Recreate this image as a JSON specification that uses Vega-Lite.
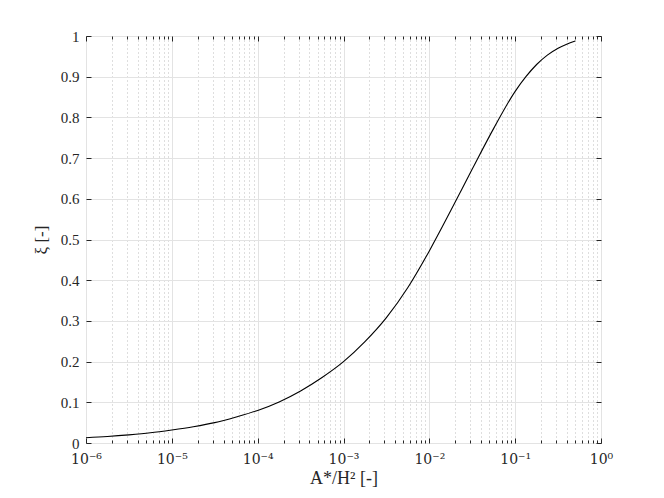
{
  "$schema": "https://vega.github.io/schema/vega-lite/v6.json",
  "width": 515,
  "height": 407,
  "autosize": {"type": "none"},
  "padding": {"left": 86, "top": 36, "right": 63, "bottom": 55},
  "background": "white",
  "config": {
    "view": {"stroke": "#262626", "strokeWidth": 1},
    "font": "Liberation Serif",
    "axis": {
      "labelFont": "Liberation Serif",
      "titleFont": "Liberation Serif",
      "labelColor": "#262626",
      "titleColor": "#262626",
      "tickColor": "#262626",
      "tickWidth": 1,
      "domain": false,
      "titleFontWeight": "normal",
      "labelFontSize": 15,
      "titleFontSize": 17
    }
  },
  "data": {
    "values": [
      {"a": 1e-6, "xi": 0.013},
      {"a": 1.778e-6, "xi": 0.016},
      {"a": 3.162e-6, "xi": 0.020},
      {"a": 5.623e-6, "xi": 0.025},
      {"a": 1e-5, "xi": 0.032},
      {"a": 1.778e-5, "xi": 0.040},
      {"a": 3.162e-5, "xi": 0.050},
      {"a": 5.623e-5, "xi": 0.064},
      {"a": 1e-4, "xi": 0.080},
      {"a": 1.778e-4, "xi": 0.101},
      {"a": 3.162e-4, "xi": 0.128},
      {"a": 5.623e-4, "xi": 0.161},
      {"a": 1e-3, "xi": 0.200},
      {"a": 1.778e-3, "xi": 0.249},
      {"a": 3.162e-3, "xi": 0.308},
      {"a": 5.623e-3, "xi": 0.382},
      {"a": 1e-2, "xi": 0.472},
      {"a": 1.778e-2, "xi": 0.571},
      {"a": 3.162e-2, "xi": 0.673},
      {"a": 5.623e-2, "xi": 0.773},
      {"a": 0.1, "xi": 0.864},
      {"a": 0.1334, "xi": 0.900},
      {"a": 0.1778, "xi": 0.930},
      {"a": 0.2371, "xi": 0.953},
      {"a": 0.3162, "xi": 0.970},
      {"a": 0.3981, "xi": 0.980},
      {"a": 0.5012, "xi": 0.988}
    ]
  },
  "layer": [
    {
      "mark": {"type": "line", "color": "black", "strokeWidth": 1.1, "interpolate": "monotone"},
      "encoding": {
        "x": {
          "field": "a", "type": "quantitative",
          "scale": {"type": "log", "domain": [1e-6, 1], "nice": false},
          "axis": {
            "orient": "bottom",
            "values": [1e-6, 1e-5, 1e-4, 1e-3, 1e-2, 1e-1, 1],
            "labelExpr": "'10' + (datum.value > 0.5 ? '⁰' : datum.value > 0.05 ? '⁻¹' : datum.value > 0.005 ? '⁻²' : datum.value > 0.0005 ? '⁻³' : datum.value > 0.00005 ? '⁻⁴' : datum.value > 0.000005 ? '⁻⁵' : '⁻⁶')",
            "labelFont": "DejaVu Serif",
            "labelFontSize": 14,
            "grid": true, "gridColor": "#e3e3e3", "gridWidth": 1,
            "tickSize": -5,
            "labelPadding": 14,
            "labelFlush": false,
            "title": "A*/H² [-]",
            "titleFontSize": 18,
            "titlePadding": 3
          }
        },
        "y": {
          "field": "xi", "type": "quantitative",
          "scale": {"domain": [0, 1], "nice": false},
          "axis": {
            "orient": "left",
            "values": [0, 0.1, 0.2, 0.3, 0.4, 0.5, 0.6, 0.7, 0.8, 0.9, 1],
            "format": ".1~f",
            "grid": true, "gridColor": "#e3e3e3", "gridWidth": 1,
            "tickSize": -5,
            "labelPadding": 12,
            "labelFlush": false,
            "title": "ξ [-]",
            "titlePadding": 10
          }
        }
      }
    },
    {
      "mark": {"type": "line", "strokeOpacity": 0},
      "encoding": {
        "x": {
          "field": "a", "type": "quantitative",
          "axis": {
            "orient": "bottom",
            "values": [2e-6, 3e-6, 4e-6, 5e-6, 6e-6, 7e-6, 8e-6, 9e-6, 2e-5, 3e-5, 4e-5, 5e-5, 6e-5, 7e-5, 8e-5, 9e-5, 2e-4, 3e-4, 4e-4, 5e-4, 6e-4, 7e-4, 8e-4, 9e-4, 2e-3, 3e-3, 4e-3, 5e-3, 6e-3, 7e-3, 8e-3, 9e-3, 2e-2, 3e-2, 4e-2, 5e-2, 6e-2, 7e-2, 8e-2, 9e-2, 0.2, 0.3, 0.4, 0.5, 0.6, 0.7, 0.8, 0.9],
            "labels": false,
            "grid": true, "gridColor": "#bdbdbd", "gridDash": [1, 3], "gridWidth": 1,
            "tickSize": -3,
            "title": null
          }
        },
        "y": {
          "field": "xi", "type": "quantitative",
          "axis": {
            "orient": "right",
            "values": [0, 0.1, 0.2, 0.3, 0.4, 0.5, 0.6, 0.7, 0.8, 0.9, 1],
            "labels": false, "grid": false,
            "tickSize": -5,
            "title": null
          }
        }
      }
    },
    {
      "mark": {"type": "line", "strokeOpacity": 0},
      "encoding": {
        "x": {
          "field": "a", "type": "quantitative",
          "axis": {
            "orient": "top",
            "values": [1e-6, 1e-5, 1e-4, 1e-3, 1e-2, 1e-1, 1],
            "labels": false, "grid": false,
            "tickSize": -5,
            "title": null
          }
        },
        "y": {"field": "xi", "type": "quantitative", "axis": null}
      }
    },
    {
      "mark": {"type": "line", "strokeOpacity": 0},
      "encoding": {
        "x": {
          "field": "a", "type": "quantitative",
          "axis": {
            "orient": "top",
            "values": [2e-6, 3e-6, 4e-6, 5e-6, 6e-6, 7e-6, 8e-6, 9e-6, 2e-5, 3e-5, 4e-5, 5e-5, 6e-5, 7e-5, 8e-5, 9e-5, 2e-4, 3e-4, 4e-4, 5e-4, 6e-4, 7e-4, 8e-4, 9e-4, 2e-3, 3e-3, 4e-3, 5e-3, 6e-3, 7e-3, 8e-3, 9e-3, 2e-2, 3e-2, 4e-2, 5e-2, 6e-2, 7e-2, 8e-2, 9e-2, 0.2, 0.3, 0.4, 0.5, 0.6, 0.7, 0.8, 0.9],
            "labels": false, "grid": false,
            "tickSize": -3,
            "title": null
          }
        },
        "y": {"field": "xi", "type": "quantitative", "axis": null}
      }
    }
  ],
  "resolve": {"axis": {"x": "independent", "y": "independent"}}
}
